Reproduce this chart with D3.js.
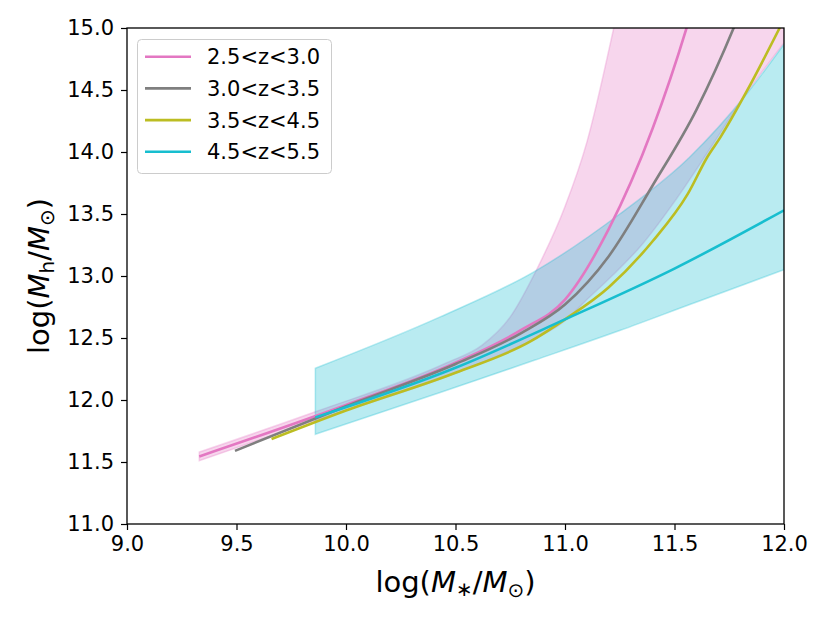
<!DOCTYPE html>
<html><head><meta charset="utf-8">
<script src="https://cdn.jsdelivr.net/npm/d3@7"></script>
<style>body{margin:0;background:#fff}svg text{font-family:"DejaVu Sans",sans-serif;fill:#000}</style>
</head><body><svg id="c" width="830" height="623"></svg>
<script>
// ---- data ----
const seriesNames = ["2.5<z<3.0", "3.0<z<3.5", "3.5<z<4.5", "4.5<z<5.5"];
const seriesColors = ["#e377c2", "#7f7f7f", "#bcbd22", "#17becf"];

const pinkX = [9.33, 10.0, 10.5, 10.8, 11.0, 11.2, 11.4, 11.555, 11.6];
const pinkY = [11.545, 11.96, 12.30, 12.565, 12.81, 13.38, 14.19, 15.0, 15.27];

const grayX = [9.493, 10.0, 10.5, 10.8, 11.0, 11.2, 11.4, 11.6, 11.77, 11.8];
const grayY = [11.59, 11.95, 12.29, 12.54, 12.77, 13.16, 13.73, 14.34, 15.0, 15.13];

const yellowX = [9.66, 10.0, 10.5, 10.84, 11.0, 11.2, 11.4, 11.56, 11.65, 11.71, 11.83, 11.98, 12.0];
const yellowY = [11.685, 11.915, 12.22, 12.47, 12.65, 12.91, 13.28, 13.66, 13.96, 14.12, 14.49, 15.0, 15.07];

const cyanX = [9.86, 10.5, 11.0, 11.5, 12.0];
const cyanY = [11.86, 12.26, 12.65, 13.06, 13.53];

const pinkBandX  = [9.33, 9.86, 10.46, 10.62, 10.75, 10.87, 11.0, 11.1, 11.22, 11.35, 11.5, 11.66, 11.8, 12.0];
const pinkBandHi = [11.58, 11.905, 12.30, 12.44, 12.67, 13.05, 13.56, 14.08, 14.98, 16.1, 17.3, 18.6, 19.8, 21.5];
const pinkBandLo = [11.51, 11.835, 12.19, 12.30, 12.40, 12.50, 12.64, 12.81, 13.01, 13.25, 13.60, 14.02, 14.40, 14.88];

const cyanBandX  = [9.86, 10.43, 10.86, 11.25, 11.57, 11.83, 12.0];
const cyanBandHi = [12.256, 12.67, 13.035, 13.50, 13.96, 14.47, 14.87];
const cyanBandLo = [11.723, 12.06, 12.32, 12.56, 12.77, 12.94, 13.05];

const xTicks = [9.0, 9.5, 10.0, 10.5, 11.0, 11.5, 12.0];
const yTicks = [11.0, 11.5, 12.0, 12.5, 13.0, 13.5, 14.0, 14.5, 15.0];

// ---- chart ----
const svg = d3.select("#c");
const L = 127, R = 784, T = 28, B = 524;
const x = d3.scaleLinear().domain([9, 12]).range([L, R]);
const y = d3.scaleLinear().domain([11, 15]).range([B, T]);

svg.append("defs").append("clipPath").attr("id", "clip")
  .append("rect").attr("x", L).attr("y", T).attr("width", R - L).attr("height", B - T);
const plot = svg.append("g").attr("clip-path", "url(#clip)");

const zip = (xs, ys) => xs.map((v, i) => [v, ys[i]]);
const band = (xs, lo, hi) => xs.map((v, i) => ({x: v, lo: lo[i], hi: hi[i]}));
const area = d3.area().x(d => x(d.x)).y0(d => y(d.lo)).y1(d => y(d.hi)).curve(d3.curveMonotoneX);
const line = d3.line().x(d => x(d[0])).y(d => y(d[1])).curve(d3.curveMonotoneX);

[[band(pinkBandX, pinkBandLo, pinkBandHi), seriesColors[0]],
 [band(cyanBandX, cyanBandLo, cyanBandHi), seriesColors[3]]].forEach(([d, c]) => {
  plot.append("path").attr("d", area(d)).attr("fill", c).attr("fill-opacity", 0.3)
    .attr("stroke", c).attr("stroke-opacity", 0.3).attr("stroke-width", 1.5);
});

[zip(pinkX, pinkY), zip(grayX, grayY), zip(yellowX, yellowY), zip(cyanX, cyanY)].forEach((d, i) => {
  plot.append("path").attr("d", line(d)).attr("fill", "none")
    .attr("stroke", seriesColors[i]).attr("stroke-width", 2.6);
});

// axes
const fs = 21;
const xAxis = svg.append("g").attr("transform", `translate(0,${B})`)
  .call(d3.axisBottom(x).tickValues(xTicks).tickFormat(d3.format(".1f")).tickSizeOuter(0).tickSize(6).tickPadding(6));
const yAxis = svg.append("g").attr("transform", `translate(${L},0)`)
  .call(d3.axisLeft(y).tickValues(yTicks).tickFormat(d3.format(".1f")).tickSizeOuter(0).tickSize(6).tickPadding(7));
[xAxis, yAxis].forEach(g => {
  g.select(".domain").remove();
  g.selectAll("line").attr("stroke", "#000").attr("stroke-width", 1.2);
  g.selectAll("text").attr("font-size", fs).attr("font-family", "DejaVu Sans").attr("fill", "#000");
});
svg.append("rect").attr("x", L).attr("y", T).attr("width", R - L).attr("height", B - T)
  .attr("fill", "none").attr("stroke", "#000").attr("stroke-width", 1.3);

// axis labels
const xl = svg.append("text").attr("x", (L + R) / 2).attr("y", 592).attr("text-anchor", "middle").attr("font-size", 29);
xl.append("tspan").text("log(");
xl.append("tspan").attr("font-style", "italic").text("M");
xl.append("tspan").attr("font-size", 20).attr("dy", 4).text("∗");
xl.append("tspan").attr("dy", -4).text("/");
xl.append("tspan").attr("font-style", "italic").text("M");
xl.append("tspan").attr("font-size", 20).attr("dy", 5).text("⊙");
xl.append("tspan").attr("dy", -5).text(")");

const yl = svg.append("text").attr("transform", `translate(49,${(T + B) / 2}) rotate(-90)`)
  .attr("text-anchor", "middle").attr("font-size", 29);
yl.append("tspan").text("log(");
yl.append("tspan").attr("font-style", "italic").text("M");
yl.append("tspan").attr("font-size", 20).attr("dy", 5).text("h");
yl.append("tspan").attr("dy", -5).text("/");
yl.append("tspan").attr("font-style", "italic").text("M");
yl.append("tspan").attr("font-size", 20).attr("dy", 5).text("⊙");
yl.append("tspan").attr("dy", -5).text(")");

// legend
const lg = svg.append("g");
lg.append("rect").attr("x", 137.5).attr("y", 39.5).attr("width", 194).attr("height", 134).attr("rx", 4)
  .attr("fill", "#fff").attr("fill-opacity", 0.8).attr("stroke", "#cccccc").attr("stroke-width", 1);
seriesNames.forEach((n, i) => {
  const cy = 56.7 + i * 31.7;
  lg.append("line").attr("x1", 145).attr("x2", 191).attr("y1", cy).attr("y2", cy)
    .attr("stroke", seriesColors[i]).attr("stroke-width", 2.6);
  lg.append("text").attr("x", 207).attr("y", cy).attr("dy", "0.36em").attr("font-size", fs).text(n);
});
</script></body></html>
